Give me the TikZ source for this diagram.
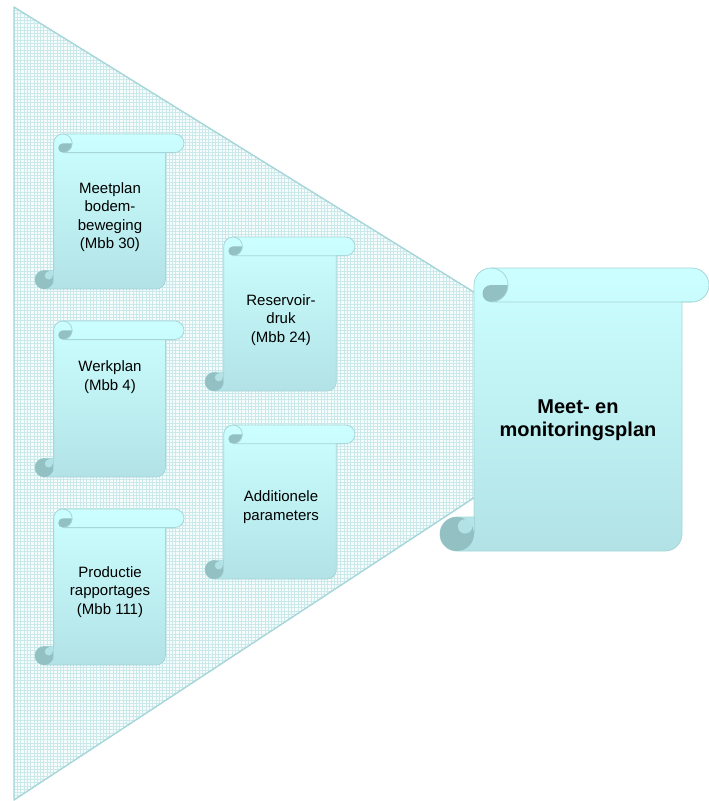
\documentclass[tikz,border=0pt]{standalone}
\usepackage{fontspec}
\setmainfont{Liberation Sans}
\definecolor{scrTop}{RGB}{204,255,255}
\definecolor{scrBot}{RGB}{178,226,230}
\definecolor{scrDark}{RGB}{147,192,194}
\definecolor{scrLine}{RGB}{166,214,217}
\definecolor{fanEdge}{RGB}{166,214,217}
\definecolor{fanGrid}{RGB}{203,233,235}
\definecolor{fanBack}{RGB}{246,252,252}

% Vertical scroll: left, top, right, bottom, roll size, body right edge
\newcommand\scrollbox[6]{%
  \pgfmathsetmacro\sL{#1}\pgfmathsetmacro\sT{#2}%
  \pgfmathsetmacro\sR{#3}\pgfmathsetmacro\sB{#4}%
  \pgfmathsetmacro\sc{#5}\pgfmathsetmacro\sBR{#6}%
  \pgfmathsetmacro\sh{\sc/2}\pgfmathsetmacro\sq{\sc/4}%
  % sheet with top and bottom rolls
  \path[top color=scrTop, bottom color=scrBot, draw=scrLine, line width=0.8pt]
    (\sL+\sc+\sh,\sT) -- (\sR-\sh,\sT)
    arc[start angle=-90, end angle=90, radius=\sh]
    -- (\sBR,\sT+\sc) -- (\sBR,\sB-\sh)
    arc[start angle=0, end angle=90, radius=\sh]
    -- (\sL+\sh,\sB)
    arc[start angle=90, end angle=270, radius=\sh]
    -- (\sL+\sc,\sB-\sc) -- (\sL+\sc,\sT+\sh)
    arc[start angle=180, end angle=270, radius=\sh] -- cycle;
  % curl of the top roll
  \fill[scrDark] (\sL+2*\sc,\sT+\sh)
    arc[start angle=0, end angle=90, radius=\sh]
    arc[start angle=90, end angle=270, radius=\sq] -- cycle;
  \draw[scrLine, line width=0.8pt] (\sL+\sc+\sh,\sT)
    arc[start angle=-90, end angle=90, radius=\sh]
    -- (\sR-\sh,\sT+\sc);
  % curl of the bottom roll
  \fill[scrDark] (\sL+\sh,\sB-\sh) circle[radius=\sh];
  \fill[scrBot] (\sL+\sh+0.95*\sq,\sB-\sh-0.9*\sq) circle[radius=0.85*\sq];
  \draw[scrLine, line width=0.8pt] (\sL+\sc,\sB-\sc) -- (\sL+\sc,\sB-\sh);
}

\begin{document}
\begin{tikzpicture}[x=1pt, y=-1pt,
  lbl/.style={align=center, inner sep=0pt,
    font=\fontsize{15}{18.5}\selectfont},
  biglbl/.style={align=center, inner sep=0pt,
    font=\fontsize{20}{23}\selectfont\bfseries}]
\useasboundingbox (0,0) rectangle (709,801);

% funnel with a fine grid
\coordinate (ftop) at (14,7);
\coordinate (ftip) at (635,392);
\coordinate (fbot) at (14,800);
\fill[fanBack] (ftop) -- (ftip) -- (fbot) -- cycle;
\begin{scope}
  \clip (ftop) -- (ftip) -- (fbot) -- cycle;
  \foreach \gx in {14,17.3,...,640} \draw[fanGrid, line width=0.5pt] (\gx,7) -- (\gx,801);
  \foreach \gy in {7,10.3,...,801} \draw[fanGrid, line width=0.5pt] (14,\gy) -- (640,\gy);
\end{scope}
\draw[fanEdge, line width=1.4pt, line join=round] (ftop) -- (ftip) -- (fbot) -- cycle;

% left column
\scrollbox{35}{134}{184}{289}{18.6}{165.4}
\scrollbox{35}{321}{184}{477}{18.6}{165.4}
\scrollbox{35}{509}{184}{665}{18.6}{165.4}
% middle column
\scrollbox{205}{237}{355}{391}{18.7}{336.3}
\scrollbox{205}{425}{355}{579}{18.7}{336.3}
% result
\scrollbox{440}{268}{709}{551}{34}{682}

\node[lbl] (meetplan) at (110,217) {Meetplan\\bodem-\\beweging\\(Mbb 30)};
\node[lbl] (werkplan) at (110,377) {Werkplan\\(Mbb 4)};
\node[lbl] (productie) at (110,592) {Productie\\rapportages\\(Mbb 111)};
\node[lbl] (reservoir) at (281,320) {Reservoir-\\druk\\(Mbb 24)};
\node[lbl] (additioneel) at (281,507) {Additionele\\parameters};
\node[biglbl] (monitoring) at (578,420) {Meet- en\\monitoringsplan};
\end{tikzpicture}
\end{document}
